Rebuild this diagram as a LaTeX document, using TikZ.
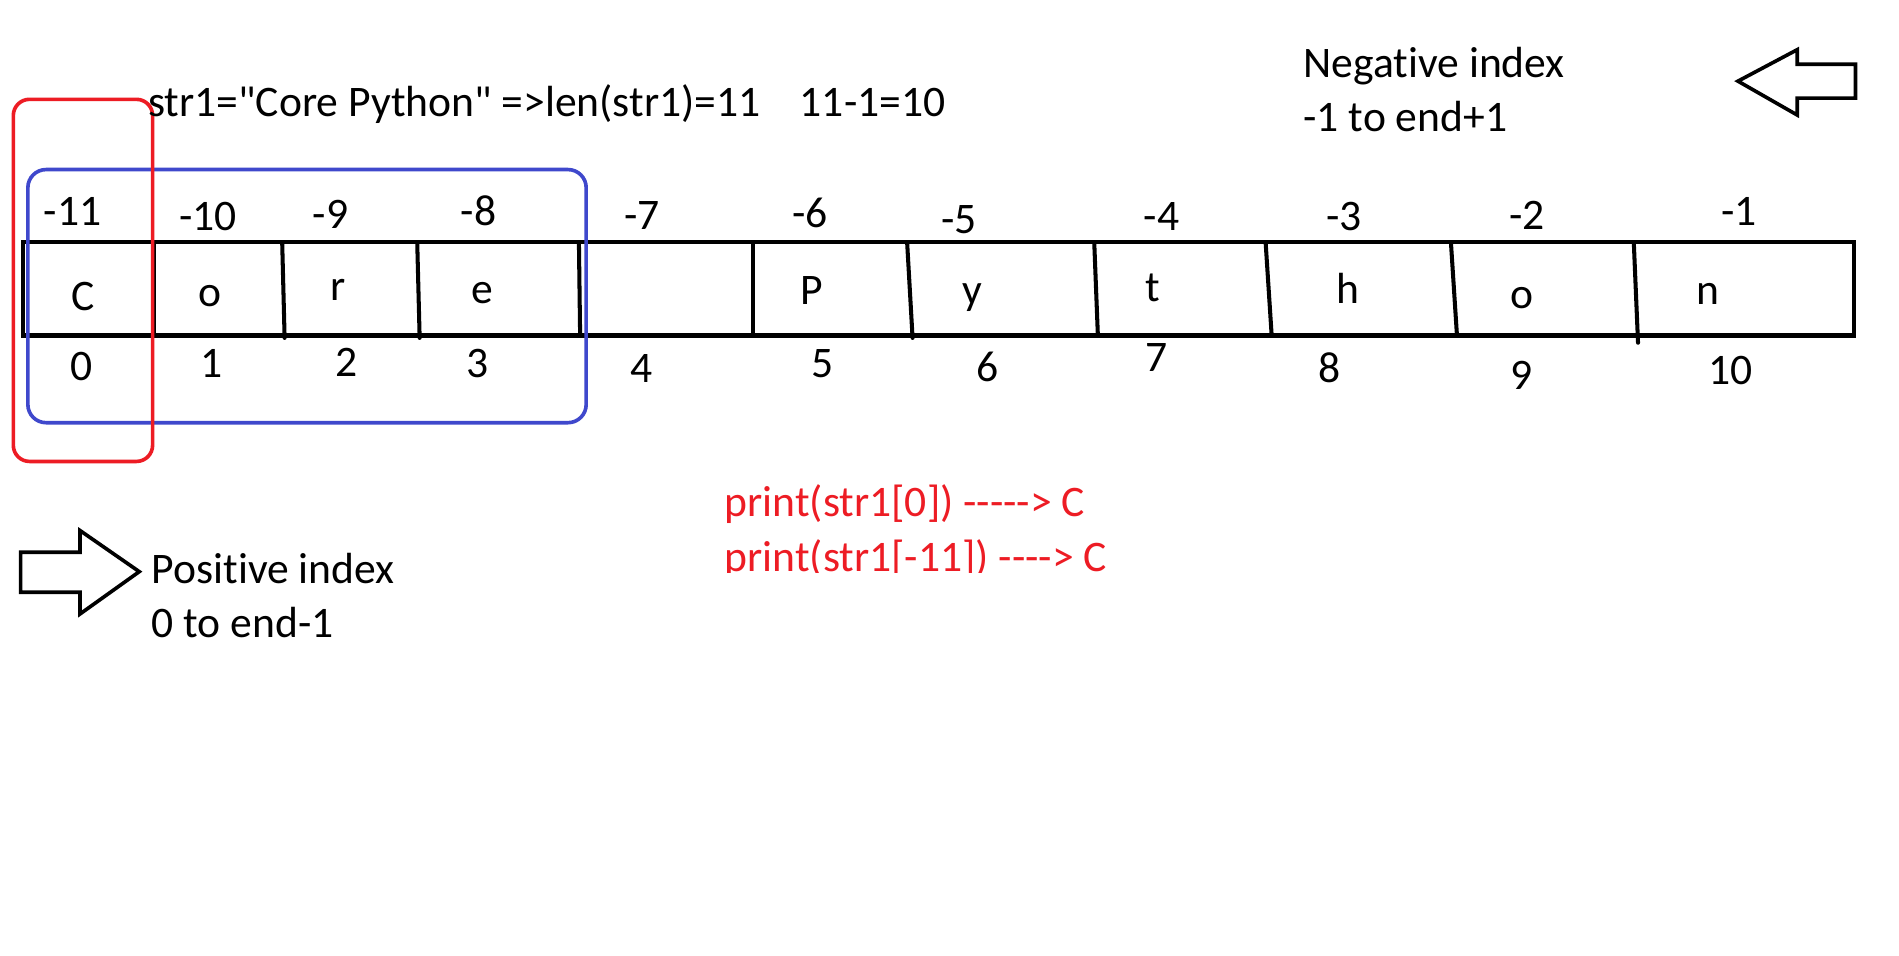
\documentclass[tikz,border=0pt]{standalone}
\usepackage{fontspec}
\setmainfont{Carlito}[Ligatures={TeXOff,CommonOff}]
\definecolor{pred}{HTML}{ED1C24}
\definecolor{pblue}{HTML}{3F48CC}
\begin{document}
\begin{tikzpicture}[x=0.6pt,y=-0.6pt,
  lbl/.style={inner sep=0pt, font=\fontsize{21.6}{26}\selectfont},
  txt/.style={lbl, anchor=base west},
  redtxt/.style={txt, text=pred},
  cellline/.style={line width=2pt, line cap=round},
  arrowline/.style={line width=1.8pt, line join=miter},
  redbox/.style={draw=pred, line width=1.8pt, rounded corners=8pt},
  bluebox/.style={draw=pblue, line width=1.8pt, rounded corners=9pt}]
\useasboundingbox (0,0) rectangle (1568,789);
\fill[white] (0,0) rectangle (1568,789);
% table
\draw[cellline] (19,200) rectangle (1531,277);
\foreach \a/\b/\e [count=\i] in {127/127/277, 233/235/279, 344.5/346.5/279, 478/479/277, 622/622/277, 749/753.5/279, 903.5/906.5/277, 1045/1050/277, 1198/1203/277, 1349/1352.5/283}
  \draw[cellline] (\a,200) coordinate (dt\i) -- (\b,\e) coordinate (db\i);
% highlight boxes
\draw[bluebox] (23,140) rectangle (484,349);
\draw[redbox] (11,82) rectangle (126,381);
% block arrows
\draw[arrowline] (1435,67) -- (1484,41) -- (1484,53) -- (1532,53) -- (1532,81) -- (1484,81) -- (1484,95) -- cycle;
\draw[arrowline] (115,472) -- (66,438) -- (66,456) -- (17,456) -- (17,489) -- (66,489) -- (66,507) -- cycle;
% negative indices
\node[lbl] (n11) at (60,175) {-11};
\node[lbl] (n10) at (172,179) {-10};
\node[lbl] (n9) at (273,177) {-9};
\node[lbl] (n8) at (395,174) {-8};
\node[lbl] (n7) at (530,178) {-7};
\node[lbl] (n6) at (669,176) {-6};
\node[lbl] (n5) at (792,181) {-5};
\node[lbl] (n4) at (959,179) {-4};
\node[lbl] (n3) at (1110,179) {-3};
\node[lbl] (n2) at (1261,178) {-2};
\node[lbl] (n1) at (1436,175) {-1};
% characters
\node[lbl] (c0) at (69,245) {C};
\node[lbl] (c1) at (173,244.5) {o};
\node[lbl] (c2) at (279,239.5) {r};
\node[lbl] (c3) at (398,242) {e};
\node[lbl] (c5) at (670,239.5) {P};
\node[lbl] (c6) at (803,246) {y};
\node[lbl] (c7) at (952,238) {t};
\node[lbl] (c8) at (1113,238) {h};
\node[lbl] (c9) at (1257,246) {o};
\node[lbl] (c10) at (1410,243) {n};
% positive indices
\node[lbl] (p0) at (67,303) {0};
\node[lbl] (p1) at (174.5,300) {1};
\node[lbl] (p2) at (286.5,299) {2};
\node[lbl] (p3) at (394.5,300) {3};
\node[lbl] (p4) at (530,304) {4};
\node[lbl] (p5) at (679,300) {5};
\node[lbl] (p6) at (815,303) {6};
\node[lbl] (p7) at (955,295) {7};
\node[lbl] (p8) at (1098,304) {8};
\node[lbl] (p9) at (1256,310) {9};
\node[lbl] (p10) at (1429,305.5) {10};
% texts
\node[txt] (title) at (122,96) {str1="Core Python" =>len(str1)=11\hspace{0.9em}11-1=10};
\node[txt] (neg1) at (1076,64) {Negative index};
\node[txt] (neg2) at (1076,108.5) {-1 to end+1};
\node[txt] (pos1) at (125,482) {Positive index};
\node[txt] (pos2) at (125,526.5) {0 to end-1};
\begin{scope}
\clip (580,380) rectangle (940,472.5);
\node[redtxt] (pr1) at (598,426.5) {print(str1[0]) -----> C};
\node[redtxt] (pr2) at (598,471.5) {print(str1[-11]) ----> C};
\end{scope}
\end{tikzpicture}
\end{document}
